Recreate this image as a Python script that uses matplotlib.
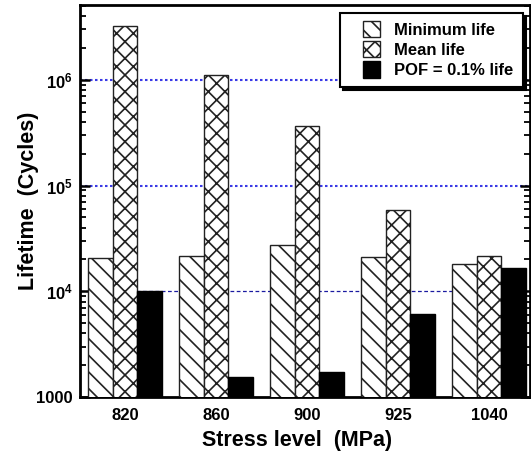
import matplotlib.pyplot as plt
import numpy as np
from matplotlib.patches import Rectangle
from matplotlib.container import BarContainer
from matplotlib.legend_handler import HandlerPatch, update_from_first_child
from matplotlib.ticker import FixedLocator, FuncFormatter, LogLocator, NullFormatter

plt.rcParams['font.family'] = ['Liberation Sans', 'DejaVu Sans']
plt.rcParams['font.weight'] = 'bold'
plt.rcParams['mathtext.fontset'] = 'custom'
plt.rcParams['mathtext.bf'] = 'Liberation Sans:bold'
plt.rcParams['mathtext.rm'] = 'Liberation Sans:bold'
plt.rcParams['hatch.linewidth'] = 1.2

stress = ['820', '860', '900', '925', '1040']
min_life = [20600, 21400, 27400, 21000, 18200]
mean_life = [3.24e6, 1.1e6, 3.68e5, 5.9e4, 21400]
pof_life = [1.0e4, 1550, 1730, 6050, 16500]

fig = plt.figure(figsize=(5.31, 4.55), dpi=100)
ax = fig.add_axes([80/531, 58/455, 450/531, 392/455])

x = np.arange(len(stress))
w = 0.27
ax.bar(x - w, min_life, w, color='white', edgecolor='#222222',
       hatch='\\\\', linewidth=1.0, label='Minimum life', zorder=3)
ax.bar(x, mean_life, w, color='white', edgecolor='#222222',
       hatch='xx', linewidth=1.0, label='Mean life', zorder=3)
ax.bar(x + w, pof_life, w, color='black', edgecolor='black',
       linewidth=1.0, label='POF = 0.1% life', zorder=3)

ax.set_yscale('log')
ax.set_ylim(1000, 5.1e6)
ax.set_xlim(-0.496, 4.45)

# reference lines at the decades
ax.axhline(1e6, color='#3a3ae6', linestyle=(0, (1.2, 1.2)), linewidth=1.5, zorder=1)
ax.axhline(1e5, color='#3a3ae6', linestyle=(0, (1.2, 1.2)), linewidth=1.5, zorder=1)
ax.axhline(1e4, color='#1a1aa0', linestyle=(0, (3, 2)), linewidth=0.9, zorder=1)

ax.yaxis.set_major_locator(FixedLocator([1e3, 1e4, 1e5, 1e6]))
ax.yaxis.set_minor_locator(LogLocator(base=10, subs=np.arange(2, 10)))
ax.yaxis.set_minor_formatter(NullFormatter())


def fmt(v, pos):
    if v == 1000:
        return '1000'
    return r'$\mathbf{10^{%d}}$' % round(np.log10(v))


ax.yaxis.set_major_formatter(FuncFormatter(fmt))

ax.set_xticks(x)
ax.set_xticklabels(stress)
ax.tick_params(axis='x', length=0, labelsize=12, pad=8)
ax.tick_params(axis='y', which='major', direction='in', length=7, width=1.8,
               labelsize=12, right=True, pad=5)
ax.tick_params(axis='y', which='minor', direction='in', length=4, width=1.3,
               right=True)

for s in ax.spines.values():
    s.set_linewidth(2)

ax.set_xlabel('Stress level  (MPa)', fontsize=15.5, fontweight='bold', labelpad=7)
ax.xaxis.set_label_coords(0.483, -0.085)
ax.set_ylabel('Lifetime  (Cycles)', fontsize=15.5, fontweight='bold', labelpad=-2)


# small square swatch pushed to the right end of the handle box (units: points)
def square(legend, orig_handle, xdescent, ydescent, width, height, fontsize):
    s = 12.5
    return Rectangle((width - s - xdescent, -ydescent - 1), s, height + 2)


leg = ax.legend(loc='upper right', bbox_to_anchor=(0.984, 0.98), fontsize=12,
                frameon=True, fancybox=False, shadow={'color': 'black', 'alpha': 1},
                borderpad=0.55, handlelength=1.85, handleheight=0.9,
                handletextpad=0.84, labelspacing=0.27, borderaxespad=0,
                handler_map={BarContainer: HandlerPatch(
                    patch_func=square, update_func=update_from_first_child)})
leg.get_frame().set_edgecolor('black')
leg.get_frame().set_linewidth(1.5)
leg.set_zorder(5)

plt.savefig('out.png', dpi=100)
plt.close()
